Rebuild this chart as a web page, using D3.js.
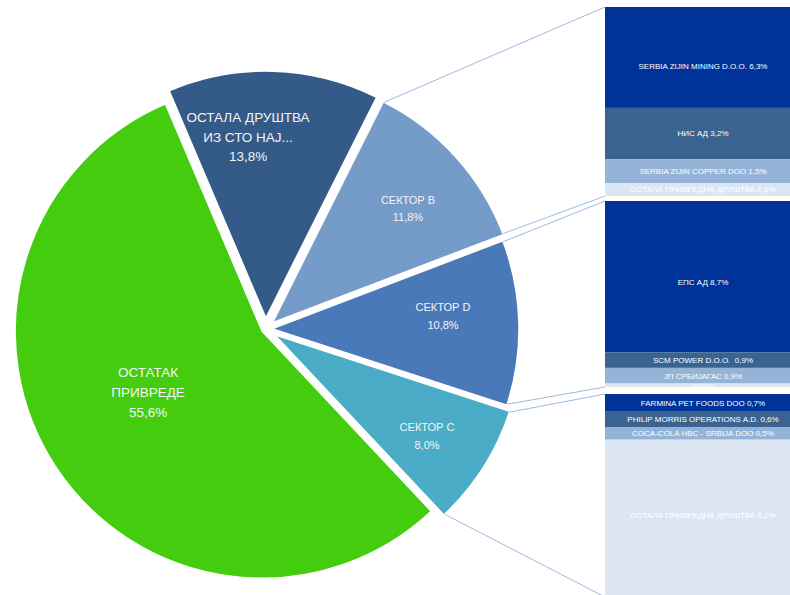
<!DOCTYPE html>
<html>
<head>
<meta charset="utf-8">
<script src="https://cdn.jsdelivr.net/npm/d3@7"></script>
<style>
  html, body { margin: 0; padding: 0; background: #fff; }
  svg { display: block; }
</style>
</head>
<body>
<svg id="chart" width="790" height="595"></svg>
<script>
// ---------- DATA ----------
const pieCategories = ["ОСТАТАК ПРИВРЕДЕ", "ОСТАЛА ДРУШТВА ИЗ СТО НАЈ...", "СЕКТОР B", "СЕКТОР D", "СЕКТОР C"];
const pieLabelLines = [["ОСТАТАК", "ПРИВРЕДЕ"], ["ОСТАЛА ДРУШТВА", "ИЗ СТО НАЈ..."], ["СЕКТОР B"], ["СЕКТОР D"], ["СЕКТОР C"]];
const pieValues = [55.6, 13.8, 11.8, 10.8, 8.0];

const sectorBNames = ["SERBIA ZIJIN MINING D.O.O.", "НИС АД", "SERBIA ZIJIN COPPER DOO", "ОСТАЛА ПРИВРЕДНА ДРУШТВА"];
const sectorBValues = [6.3, 3.2, 1.5, 0.8];
const sectorDNames = ["ЕПС АД", "SCM POWER D.O.O. ", "ЈП СРБИЈАГАС", "ЕМС АД"];
const sectorDValues = [8.7, 0.9, 0.9, 0.2];
const sectorCNames = ["FARMINA PET FOODS DOO", "PHILIP MORRIS OPERATIONS A.D.", "COCA-COLA HBC - SRBIJA DOO", "ОСТАЛА ПРИВРЕДНА ДРУШТВА"];
const sectorCValues = [0.7, 0.6, 0.5, 6.2];

// ---------- STYLE / LAYOUT ----------
const pieColors = ["#44cd0f", "#345a87", "#759bc9", "#4979b9", "#4aacc6"];
const segColors = ["#003399", "#3a6391", "#95b3d7", "#dce6f2"];
const cx = 265.5, cy = 329, R = 247, strokeW = 1.5;
const explode = [4, 11, 9.5, 6.5, 11];
const labelPolar = [[133.3, 4.9], [192.8, -7.0], [186.6, 1.9], [178, -2.8], [193.7, 1.1]]; // radius, angle tweak (deg)
const labelFont = [13.5, 13.5, 11, 11, 11];
const labelLineH = [20, 19.5, 17, 18, 18];
const groupExtents = [[7, 196], [201, 387], [394, 597]];
const segLabelDy = [[9, 0, 0, 0], [6, 0, 0, 0], [0, 0, 0, -3]];
const barX0 = 605, barX1 = 801, barTextX = 703;
const FONT = "'Liberation Sans', Arial, sans-serif";

const fmt = v => d3.format(".1f")(v).replace(".", ",") + "%";
const deg = Math.PI / 180;

const svg = d3.select("#chart");
const root = svg.append("g").attr("transform", `translate(${cx},${cy})`);

const pie = d3.pie().sort(null).value(d => d)
  .startAngle(136.8 * deg).endAngle((136.8 + 360) * deg);
const arcs = pie(pieValues);
const arc = d3.arc().innerRadius(0).outerRadius(R);

const offsets = arcs.map((a, i) => {
  const m = (a.startAngle + a.endAngle) / 2;
  return [explode[i] * Math.sin(m), -explode[i] * Math.cos(m)];
});

root.selectAll("path.slice").data(arcs).enter().append("path")
  .attr("class", "slice")
  .attr("transform", (d, i) => `translate(${offsets[i][0]},${offsets[i][1]})`)
  .attr("d", arc)
  .attr("fill", (d, i) => pieColors[i])
  .attr("stroke", "#fff")
  .attr("stroke-width", strokeW)
  .attr("stroke-linejoin", "round");

// labels
arcs.forEach((a, i) => {
  const ang = (a.startAngle + a.endAngle) / 2 + labelPolar[i][1] * deg;
  const r = labelPolar[i][0];
  const x = r * Math.sin(ang), y = -r * Math.cos(ang);
  const lines = pieLabelLines[i].concat([fmt(pieValues[i])]);
  const lh = labelLineH[i];
  const t = root.append("text")
    .attr("text-anchor", "middle")
    .attr("font-family", FONT)
    .attr("font-size", labelFont[i])
    .attr("fill", "#f4f4f4");
  lines.forEach((ln, k) => {
    t.append("tspan").attr("x", x)
      .attr("y", y + (k - (lines.length - 1) / 2) * lh + labelFont[i] * 0.36)
      .text(ln);
  });
});

// ---------- BARS ----------
const groups = [
  { names: sectorBNames, values: sectorBValues, slice: 2 },
  { names: sectorDNames, values: sectorDValues, slice: 3 },
  { names: sectorCNames, values: sectorCValues, slice: 4 }
];

function edgePoint(i, angle, offset) {
  const x = R * Math.sin(angle), y = -R * Math.cos(angle);
  return [cx + offsets[i][0] + x + offset * Math.cos(angle),
          cy + offsets[i][1] + y + offset * Math.sin(angle)];
}

groups.forEach((grp, gi) => {
  const total = d3.sum(grp.values);
  const [y0, y1] = groupExtents[gi];
  const y = d3.scaleLinear().domain([0, total]).range([y0, y1]);
  let acc = 0;
  grp.values.forEach((v, k) => {
    const top = y(acc), bot = y(acc + v);
    acc += v;
    svg.append("rect")
      .attr("x", barX0).attr("y", top)
      .attr("width", barX1 - barX0).attr("height", bot - top)
      .attr("fill", segColors[k]);
    const h = bot - top;
    const fs = Math.min(8, h);
    svg.append("text")
      .attr("x", barTextX).attr("y", (top + bot) / 2 + fs * 0.36 + segLabelDy[gi][k])
      .attr("text-anchor", "middle")
      .attr("font-family", FONT)
      .attr("font-size", fs)
      .attr("fill", "#ffffff")
      .attr("xml:space", "preserve")
      .text(grp.names[k] + " " + fmt(v));
  });

  const si = grp.slice, a = arcs[si];
  const p1 = edgePoint(si, a.startAngle, 1);
  const p2 = edgePoint(si, a.endAngle, -1);
  svg.append("line").attr("x1", p1[0]).attr("y1", p1[1]).attr("x2", barX0).attr("y2", y0)
    .attr("stroke", "#9dbbe0").attr("stroke-width", 1);
  svg.append("line").attr("x1", p2[0]).attr("y1", p2[1]).attr("x2", barX0).attr("y2", y1)
    .attr("stroke", "#9dbbe0").attr("stroke-width", 1);
});
</script>
</body>
</html>
